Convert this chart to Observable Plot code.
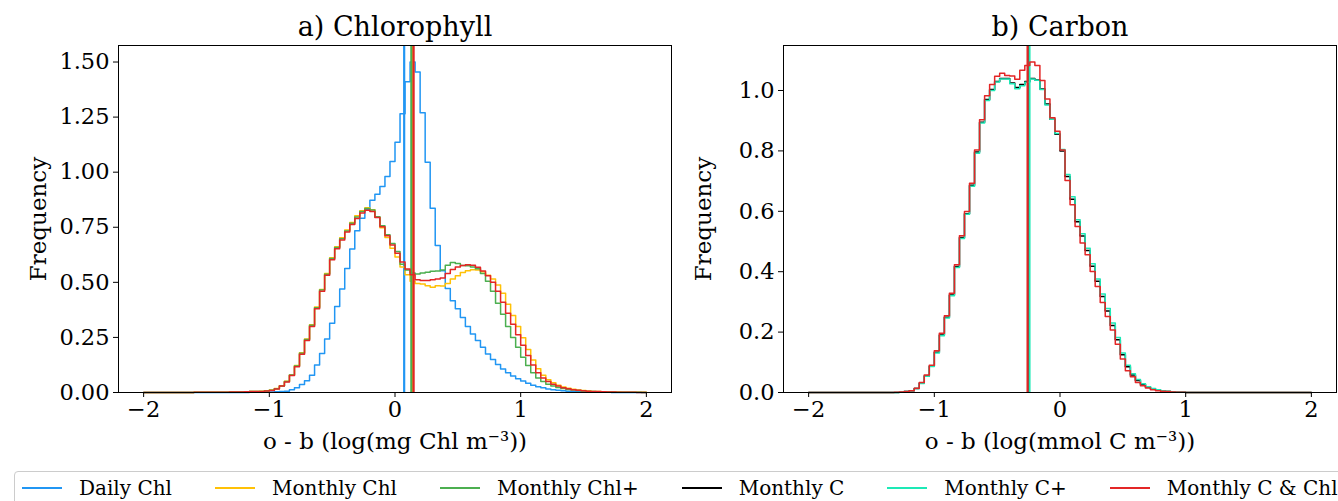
<!DOCTYPE html>
<html>
<head>
<meta charset="utf-8">
<script src="https://cdn.jsdelivr.net/npm/d3@7"></script>
<script src="https://cdn.jsdelivr.net/npm/@observablehq/plot@0.6"></script>
<style>
  html, body { margin: 0; padding: 0; background: #fff; overflow: hidden; }
  #wrap { position: relative; width: 1338px; height: 501px; font-family: "DejaVu Serif", serif; }
  #wrap svg { position: absolute; top: 0; }
  #legend { position: absolute; left: 14px; top: 471px; width: 1340px; height: 34px; border: 1px solid #cccccc; border-radius: 4px; box-sizing: border-box; display: flex; align-items: center; padding-left: 7px; font-size: 20px; font-family: "DejaVu Serif", serif; color: #000; }
  .item { display: flex; align-items: center; margin-right: 43px; white-space: nowrap; }
  .sw { width: 40px; height: 2px; margin-right: 17px; }
</style>
</head>
<body>
<div id="wrap"><div id="legend"></div></div>
<script>
// ---------- data ----------
const binStart = -2;
const binWidth = 0.04;   // 100 bins from -2 to 2

const seriesNames = ["Daily Chl", "Monthly Chl", "Monthly Chl+", "Monthly C", "Monthly C+", "Monthly C & Chl"];
const seriesColors = ["#2196f3", "#ffc107", "#4caf50", "#000000", "#1de9b6", "#e32626"];

// Panel a) Chlorophyll — normalised frequency per bin
const chlDailyChl = [
 0,0,0,0,0,0,0,0,0,0, 0,0,0,0,0,0,0,0,0,0,
 0,0.001,0.001,0.001,0.002, 0.002,0.003,0.004,0.006,0.012, 0.022,0.036,0.053,0.078,0.125,
 0.177,0.243,0.314,0.390,0.470, 0.563,0.651,0.734,0.791,0.832, 0.873,0.900,0.935,0.980,1.048,
 1.136,1.265,1.410,1.500,1.455, 1.270,1.045,0.836,0.667,0.553, 0.472,0.417,0.380,0.340,0.300,
 0.266,0.236,0.205,0.175,0.150, 0.127,0.107,0.090,0.075,0.062, 0.052,0.042,0.033,0.026,0.021,
 0.016,0.013,0.010,0.008,0.006, 0.005,0.004,0.003,0.002,0.002, 0.001,0.001,0.001,0,0, 0,0,0,0,0
];
const chlMonthlyChl = [
 0,0,0,0,0,0,0,0,0,0, 0.001,0.001,0.001,0.001,0.001, 0.001,0.001,0.002,0.002,0.003,
 0.003,0.004,0.005,0.006,0.008, 0.011,0.018,0.031,0.051,0.080, 0.122,0.180,0.243,0.308,0.388,
 0.468,0.540,0.612,0.662,0.702, 0.738,0.772,0.802,0.825,0.838, 0.830,0.795,0.748,0.703,0.655,
 0.615,0.570,0.535,0.505,0.495, 0.492,0.485,0.478,0.485,0.483, 0.495,0.515,0.530,0.545,0.553,
 0.557,0.556,0.548,0.532,0.515, 0.488,0.450,0.400,0.350,0.300, 0.248,0.195,0.148,0.108,0.078,
 0.058,0.044,0.033,0.025,0.019, 0.015,0.011,0.009,0.007,0.005, 0.004,0.003,0.003,0.002,0.002, 0.001,0.001,0.001,0.001,0.001
];
const chlMonthlyChlPlus = [
 0,0,0,0,0,0,0,0,0,0, 0.001,0.001,0.001,0.001,0.001, 0.001,0.001,0.002,0.002,0.002,
 0.003,0.004,0.004,0.005,0.007, 0.010,0.017,0.030,0.050,0.079, 0.120,0.178,0.240,0.305,0.385,
 0.465,0.537,0.608,0.658,0.698, 0.733,0.768,0.797,0.822,0.835, 0.828,0.798,0.757,0.716,0.676,
 0.640,0.582,0.556,0.542,0.538, 0.542,0.546,0.550,0.552,0.556, 0.578,0.590,0.585,0.576,0.575,
 0.570,0.562,0.540,0.505,0.460, 0.405,0.355,0.300,0.250,0.205, 0.160,0.122,0.090,0.066,0.050,
 0.038,0.030,0.023,0.018,0.014, 0.011,0.009,0.007,0.005,0.004, 0.003,0.003,0.002,0.002,0.001, 0.001,0.001,0.001,0.001,0
];
const chlMonthlyCChl = [
 0,0,0,0,0,0,0,0,0,0, 0.001,0.001,0.001,0.001,0.001, 0.001,0.001,0.002,0.002,0.002,
 0.003,0.004,0.004,0.005,0.007, 0.009,0.016,0.029,0.048,0.077, 0.117,0.174,0.236,0.300,0.380,
 0.460,0.532,0.603,0.652,0.692, 0.728,0.762,0.790,0.815,0.827, 0.822,0.794,0.752,0.712,0.670,
 0.632,0.592,0.560,0.535,0.512, 0.508,0.508,0.512,0.515,0.520, 0.540,0.558,0.570,0.576,0.580,
 0.578,0.568,0.552,0.530,0.500, 0.460,0.410,0.360,0.310,0.262, 0.215,0.168,0.125,0.090,0.066,
 0.050,0.038,0.029,0.022,0.017, 0.013,0.010,0.008,0.006,0.005, 0.004,0.003,0.002,0.002,0.001, 0.001,0.001,0.001,0,0
];
const chlMeans = [0.073, 0.143, 0.130, 0.148];  // Daily Chl, Monthly Chl, Monthly Chl+, Monthly C & Chl

// Panel b) Carbon
const cMonthlyC = [
 0,0,0,0,0,0,0,0,0,0, 0,0,0,0,0,0,0,0,0.001,0.003,
 0.006,0.013,0.031,0.055,0.087, 0.133,0.190,0.249,0.323,0.417, 0.513,0.592,0.686,0.796,0.895,
 0.970,1.003,1.030,1.040,1.040, 1.025,1.010,1.020,1.030,1.040, 1.035,1.005,0.955,0.905,0.855,
 0.800,0.715,0.640,0.565,0.518, 0.470,0.418,0.368,0.318,0.270, 0.222,0.175,0.125,0.085,0.058,
 0.040,0.027,0.018,0.012,0.008, 0.005,0.003,0.002,0.001,0.001, 0,0,0,0,0,
 0,0,0,0,0, 0,0,0,0,0, 0,0,0,0,0, 0,0,0,0,0
];
const cMonthlyCPlus = [
 0,0,0,0,0,0,0,0,0,0, 0,0,0,0,0,0,0,0,0.001,0.003,
 0.006,0.013,0.030,0.054,0.086, 0.131,0.188,0.247,0.320,0.414, 0.510,0.590,0.683,0.792,0.892,
 0.967,1.000,1.028,1.038,1.038, 1.022,1.006,1.016,1.027,1.038, 1.034,1.003,0.952,0.905,0.858,
 0.805,0.722,0.648,0.572,0.526, 0.478,0.426,0.376,0.326,0.278, 0.230,0.182,0.131,0.090,0.062,
 0.043,0.029,0.019,0.013,0.009, 0.006,0.004,0.002,0.001,0.001, 0,0,0,0,0,
 0,0,0,0,0, 0,0,0,0,0, 0,0,0,0,0, 0,0,0,0,0
];
const cMonthlyCChl = [
 0,0,0,0,0,0,0,0,0,0, 0,0,0,0,0,0,0,0.001,0.002,0.003,
 0.006,0.014,0.033,0.058,0.090, 0.138,0.196,0.254,0.329,0.423, 0.519,0.599,0.693,0.803,0.903,
 0.983,1.020,1.047,1.057,1.050, 1.048,1.037,1.067,1.083,1.094, 1.083,1.033,0.972,0.910,0.865,
 0.803,0.702,0.622,0.550,0.495, 0.456,0.401,0.351,0.298,0.252, 0.207,0.160,0.111,0.072,0.052,
 0.033,0.022,0.015,0.009,0.006, 0.004,0.003,0.002,0.001,0.001, 0,0,0,0,0,
 0,0,0,0,0, 0,0,0,0,0, 0,0,0,0,0, 0,0,0,0,0
];
const cMeans = [-0.248, -0.243, -0.258];  // Monthly C, Monthly C+, Monthly C & Chl

const xTicks = [-2, -1, 0, 1, 2];
const yTicksA = [0, 0.25, 0.5, 0.75, 1.0, 1.25, 1.5];
const yTicksB = [0, 0.2, 0.4, 0.6, 0.8, 1.0];

// ---------- helpers ----------
function stepPoints(values) {
  const pts = values.map((v, i) => ({x: binStart + i * binWidth, y: v}));
  pts.push({x: binStart + values.length * binWidth, y: values[values.length - 1]});
  return pts;
}
function histMarks(values, mean, color) {
  return [
    Plot.line(stepPoints(values), {x: "x", y: "y", curve: "step-after", stroke: color, strokeWidth: 1.5}),
    Plot.ruleX([mean], {stroke: color, strokeWidth: 2.2})
  ];
}
const FONT = "DejaVu Serif";

function panel({width, marginLeft, marginRight, yMax, yTicks, yFmt, series, title, xlabel}) {
  return Plot.plot({
    width, height: 462,
    marginLeft, marginRight, marginTop: 45, marginBottom: 70,
    style: {fontFamily: FONT, background: "transparent", color: "black", overflow: "visible"},
    x: {domain: [-2.2, 2.2]},
    y: {domain: [0, yMax]},
    marks: [
      ...series.flatMap(s => histMarks(s.values, s.mean, s.color)),
      Plot.frame({stroke: "black", strokeWidth: 1}),
      Plot.axisX({ticks: xTicks, tickSize: 5, tickPadding: 4, fontSize: 22.5, label: null, tickFormat: d3.format("d")}),
      Plot.axisY({ticks: yTicks, tickSize: 5, tickPadding: 4, fontSize: 22.5, label: null, tickFormat: d3.format(yFmt)}),
      Plot.text([title], {frameAnchor: "top", dy: -18, lineAnchor: "middle", textAnchor: "middle", fontSize: 27, fill: "black"}),
      Plot.text([xlabel], {frameAnchor: "bottom", dy: 49, lineAnchor: "middle", textAnchor: "middle", fontSize: 23, fill: "black"}),
      Plot.text(["Frequency"], {frameAnchor: "left", dx: -80, rotate: -90, lineAnchor: "middle", textAnchor: "middle", fontSize: 23, fill: "black"})
    ]
  });
}

const wrap = document.getElementById("wrap");

const svgA = panel({
  width: 680, marginLeft: 118, marginRight: 9,
  yMax: 1.575, yTicks: yTicksA, yFmt: ".2f",
  title: "a) Chlorophyll", xlabel: "o - b (log(mg Chl m⁻³))",
  series: [
    {values: chlDailyChl, mean: chlMeans[0], color: seriesColors[0]},
    {values: chlMonthlyChl, mean: chlMeans[1], color: seriesColors[1]},
    {values: chlMonthlyChlPlus, mean: chlMeans[2], color: seriesColors[2]},
    {values: chlMonthlyCChl, mean: chlMeans[3], color: seriesColors[5]}
  ]
});
svgA.style.left = "0px";
wrap.appendChild(svgA);

const svgB = panel({
  width: 658, marginLeft: 103, marginRight: 2,
  yMax: 1.149, yTicks: yTicksB, yFmt: ".1f",
  title: "b) Carbon", xlabel: "o - b (log(mmol C m⁻³))",
  series: [
    {values: cMonthlyC, mean: cMeans[0], color: seriesColors[3]},
    {values: cMonthlyCPlus, mean: cMeans[1], color: seriesColors[4]},
    {values: cMonthlyCChl, mean: cMeans[2], color: seriesColors[5]}
  ]
});
svgB.style.left = "680px";
wrap.appendChild(svgB);

// legend
const legend = document.getElementById("legend");
seriesNames.forEach((name, i) => {
  const item = document.createElement("div");
  item.className = "item";
  const sw = document.createElement("div");
  sw.className = "sw";
  sw.style.background = seriesColors[i];
  const t = document.createElement("span");
  t.textContent = name;
  item.appendChild(sw); item.appendChild(t);
  legend.appendChild(item);
});
</script>
</body>
</html>
